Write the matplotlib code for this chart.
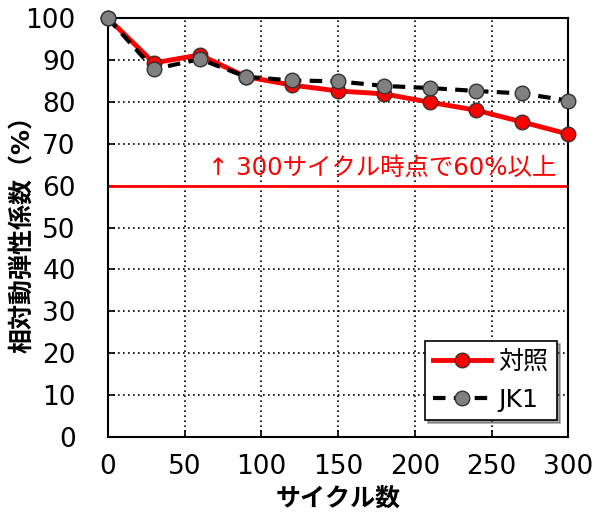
import matplotlib
matplotlib.use('Agg')
import matplotlib.pyplot as plt

plt.rcParams['font.family'] = ['DejaVu Sans', 'Noto Sans CJK JP']

# サイクル数と相対動弾性係数
cycles = [0, 30, 60, 90, 120, 150, 180, 210, 240, 270, 300]
control = [100, 89.3, 91.2, 86.0, 84.0, 82.6, 81.9, 79.9, 78.0, 75.2, 72.3]
jk1 = [100, 87.8, 90.2, 86.0, 85.1, 84.9, 83.8, 83.3, 82.6, 82.0, 80.3]
threshold = 60

fig = plt.figure(figsize=(6.02, 5.16), dpi=100)
ax = fig.add_axes([0.179, 0.153, 0.765, 0.812])

ax.grid(True, color='black', linestyle=(0, (1, 2)), linewidth=1.2)
ax.set_axisbelow(True)

# 基準線 (60%)
ax.axhline(threshold, color='red', linewidth=2, zorder=2)
ax.text(292, threshold + 1.3, '↑ 300サイクル時点で60%以上', color='red',
        fontsize=17.6, ha='right', va='bottom')

ax.plot(cycles, control, color='red', linewidth=3.5, marker='o', markersize=10.5,
        markerfacecolor='red', markeredgecolor='#333333', markeredgewidth=1,
        label='対照', zorder=3, clip_on=False)
ax.plot(cycles, jk1, color='black', linewidth=3, linestyle=(0, (3, 2)),
        marker='o', markersize=10.5, markerfacecolor='#808080',
        markeredgecolor='#333333', markeredgewidth=1, label='JK1', zorder=4,
        clip_on=False)

ax.set_xlim(0, 300)
ax.set_ylim(0, 100)
ax.set_xticks(range(0, 301, 50))
ax.set_yticks(range(0, 101, 10))
ax.tick_params(direction='in', labelsize=19, length=5, width=1.2)
ax.tick_params(axis='y', pad=23)
ax.tick_params(axis='x', pad=12)
for s in ax.spines.values():
    s.set_linewidth(1.5)

ax.set_xlabel('サイクル数', fontsize=18, fontweight='bold', labelpad=5)
ax.set_ylabel('相対動弾性係数（%）', fontsize=18, fontweight='bold')
ax.yaxis.set_label_coords(-0.159, 0.5)

leg = ax.legend(loc='lower right', bbox_to_anchor=(0.976, 0.04),
                borderaxespad=0, fontsize=18, fancybox=False, shadow=True,
                framealpha=1, edgecolor='black', handlelength=2.3,
                borderpad=0.35, labelspacing=0.55, handletextpad=0.3)
leg.get_frame().set_linewidth(1.2)

plt.savefig('out.png', dpi=100)
